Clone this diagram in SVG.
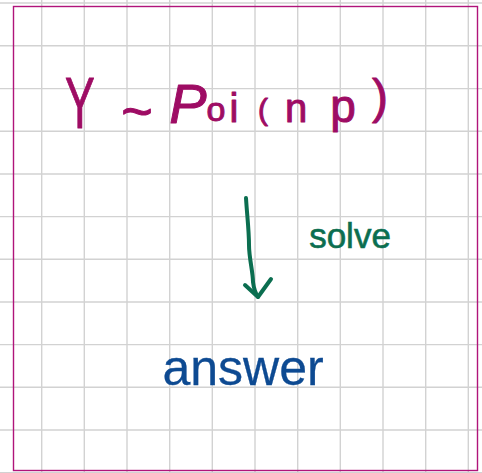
<svg xmlns="http://www.w3.org/2000/svg" width="482" height="473" viewBox="0 0 482 473">
<style>
.grid line{stroke:#d2d2d2;stroke-width:1.4}
.hw{font-family:"Liberation Sans","DejaVu Sans",sans-serif}
.pur{fill:#9e0c64;stroke:#9e0c64;stroke-width:1;stroke-linejoin:round}
.grn{fill:#0b6e50;stroke:#0b6e50;stroke-width:0.6}
.blu{fill:#0d4a92;stroke:#0d4a92;stroke-width:0.3}
.conn{fill:none;stroke:#0b6e50;stroke-width:4;stroke-linecap:round;stroke-linejoin:round}
</style>
<rect width="482" height="473" fill="#ffffff"/>
<g class="grid">
<line x1="41.7" y1="0" x2="41.7" y2="473"/>
<line x1="84.3" y1="0" x2="84.3" y2="473"/>
<line x1="127" y1="0" x2="127" y2="473"/>
<line x1="169.7" y1="0" x2="169.7" y2="473"/>
<line x1="212.3" y1="0" x2="212.3" y2="473"/>
<line x1="255" y1="0" x2="255" y2="473"/>
<line x1="297.7" y1="0" x2="297.7" y2="473"/>
<line x1="340.3" y1="0" x2="340.3" y2="473"/>
<line x1="383" y1="0" x2="383" y2="473"/>
<line x1="425.7" y1="0" x2="425.7" y2="473"/>
<line x1="468.3" y1="0" x2="468.3" y2="473"/>
<line x1="0" y1="3" x2="482" y2="3"/>
<line x1="0" y1="45.7" x2="482" y2="45.7"/>
<line x1="0" y1="88.6" x2="482" y2="88.6"/>
<line x1="0" y1="131.3" x2="482" y2="131.3"/>
<line x1="0" y1="174" x2="482" y2="174"/>
<line x1="0" y1="216.6" x2="482" y2="216.6"/>
<line x1="0" y1="259.3" x2="482" y2="259.3"/>
<line x1="0" y1="302" x2="482" y2="302"/>
<line x1="0" y1="344.6" x2="482" y2="344.6"/>
<line x1="0" y1="387.3" x2="482" y2="387.3"/>
<line x1="0" y1="430" x2="482" y2="430"/>
<line x1="0" y1="472.6" x2="482" y2="472.6"/>
</g>
<rect x="13.5" y="6.5" width="464" height="464" fill="none" stroke="#b0147a" stroke-width="1.4"/>
<g id="formula">
<text class="hw pur" transform="translate(80,128) scale(0.62,1)" font-size="72" text-anchor="middle">Y</text>
<text class="hw pur" text-anchor="middle"><tspan x="137" y="130" font-size="54">~</tspan><tspan x="188" y="123" font-size="56" font-style="italic">P</tspan><tspan x="216" y="121" font-size="34">o</tspan><tspan x="234" y="122" font-size="40">i</tspan><tspan x="263" y="120" font-size="30">(</tspan><tspan x="296" y="122" font-size="40">n</tspan><tspan x="343" y="122" font-size="46">p</tspan><tspan x="380" y="113" font-size="48">)</tspan></text>
</g>
<g id="answer">
<text class="hw blu" x="243" y="385" font-size="50" text-anchor="middle">answer</text>
</g>
<g id="connectors">
<path class="conn" d="M246 198 C247 215 249 230 249 245 C249 258 253 272 253 282 C254 290 256 294 258 297"/>
<path class="conn" d="M245 285 L258 297 L271 279"/>
<text class="hw grn" x="350" y="248" font-size="35" text-anchor="middle">solve</text>
</g>
</svg>
